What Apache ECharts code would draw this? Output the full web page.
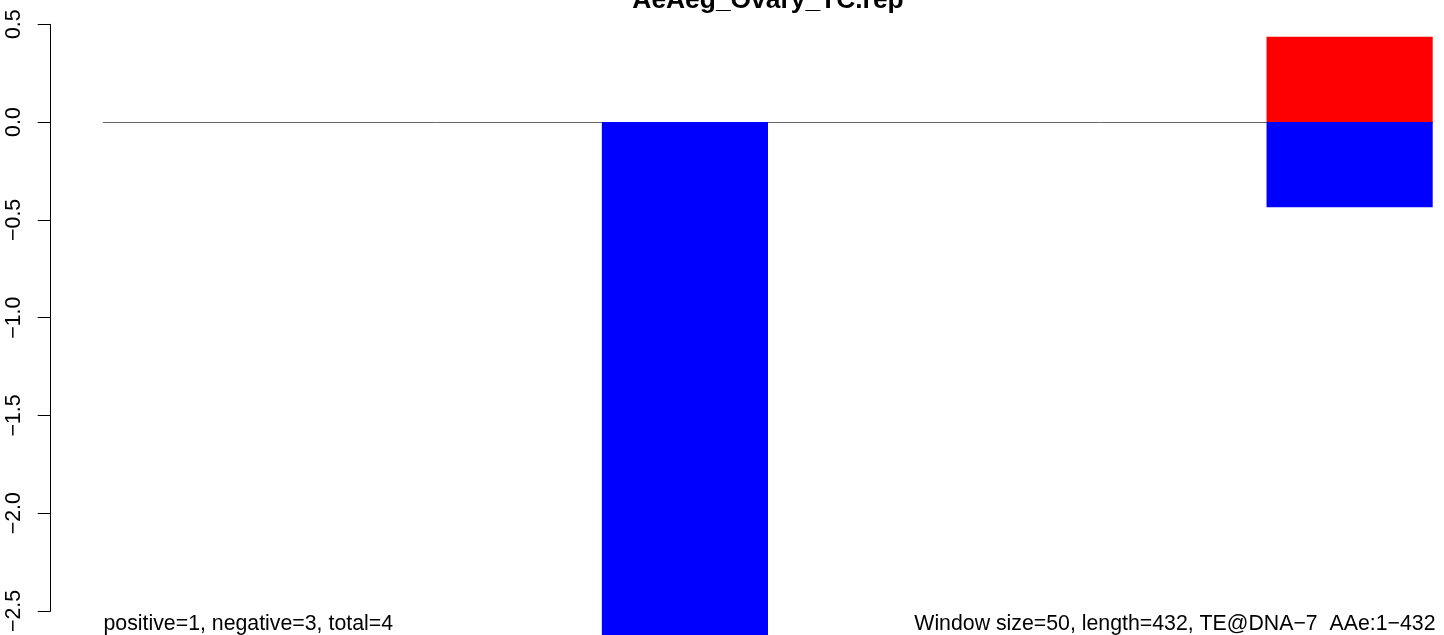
<!DOCTYPE html>
<html>
<head>
<meta charset="utf-8">
<script src="https://cdn.jsdelivr.net/npm/echarts@6/dist/echarts.min.js"></script>
<style>
html,body{margin:0;padding:0;background:#fff;}
#chart{width:1444px;height:635px;}
</style>
</head>
<body>
<div id="chart"></div>
<script>
// ---- data ----
var titleText = 'AeAeg_Ovary_TC.rep';
var categories = ['1', '2', '3', '4', '5', '6', '7', '8'];
var positiveValues = [null, null, null, null, null, null, null, 0.436];
var negativeValues = [null, null, null, -2.75, null, null, null, -0.436];
var yTickValues = [-2.5, -2.0, -1.5, -1.0, -0.5, 0.0, 0.5];
var yTickLabels = ['\u22122.5', '\u22122.0', '\u22121.5', '\u22121.0', '\u22120.5', '0.0', '0.5'];
var leftNote = 'positive=1, negative=3, total=4';
var rightNote = 'Window size=50, length=432, TE@DNA\u22127  AAe:1\u2212432';

var FONT = '"Liberation Sans", Arial, Helvetica, sans-serif';
var chart = echarts.init(document.getElementById('chart'), null, {renderer: 'canvas'});

function tickLabel(v) {
  for (var i = 0; i < yTickValues.length; i++) {
    if (Math.abs(yTickValues[i] - v) < 1e-9) return yTickLabels[i];
  }
  return '';
}

var option = {
  backgroundColor: '#ffffff',
  animation: false,
  grid: {left: 103.3, right: 11.3, top: 24.3, bottom: 23.3, containLabel: false},
  xAxis: {
    type: 'category',
    data: categories,
    boundaryGap: true,
    axisLine: {show: true, onZero: true, lineStyle: {color: '#666666', width: 1}},
    axisTick: {show: false},
    axisLabel: {show: false},
    splitLine: {show: false}
  },
  yAxis: {
    type: 'value',
    min: -2.5,
    max: 0.5,
    interval: 0.5,
    offset: 52.6,
    axisLine: {show: true, lineStyle: {color: '#000000', width: 1}},
    axisTick: {show: true, length: 13, lineStyle: {color: '#000000', width: 1}},
    splitLine: {show: false},
    axisLabel: {
      rotate: 90,
      margin: 37,
      align: 'center',
      verticalAlign: 'middle',
      fontFamily: FONT,
      fontSize: 21.3,
      color: '#000000',
      formatter: function (v) { return tickLabel(v); }
    }
  },
  series: [
    {
      type: 'bar',
      name: 'positive',
      data: positiveValues,
      barWidth: '100%',
      barGap: '-100%',
      clip: false,
      itemStyle: {color: '#ff0000'}
    },
    {
      type: 'bar',
      name: 'negative',
      data: negativeValues,
      barWidth: '100%',
      barGap: '-100%',
      clip: false,
      itemStyle: {color: '#0000ff'}
    }
  ],
  graphic: [
    {
      type: 'text', left: null, x: 768, y: 1,
      style: {text: titleText, font: 'bold 26.4px ' + FONT, fill: '#000', textAlign: 'center', textVerticalAlign: 'middle'}
    },
    {
      type: 'text', x: 103.5, y: 624.5,
      style: {text: leftNote, font: '21.3px ' + FONT, fill: '#000', textAlign: 'left', textVerticalAlign: 'middle'}
    },
    {
      type: 'text', x: 1435.5, y: 624.5,
      style: {text: rightNote, font: '21.3px ' + FONT, fill: '#000', textAlign: 'right', textVerticalAlign: 'middle'}
    }
  ]
};
chart.setOption(option);
</script>
</body>
</html>
